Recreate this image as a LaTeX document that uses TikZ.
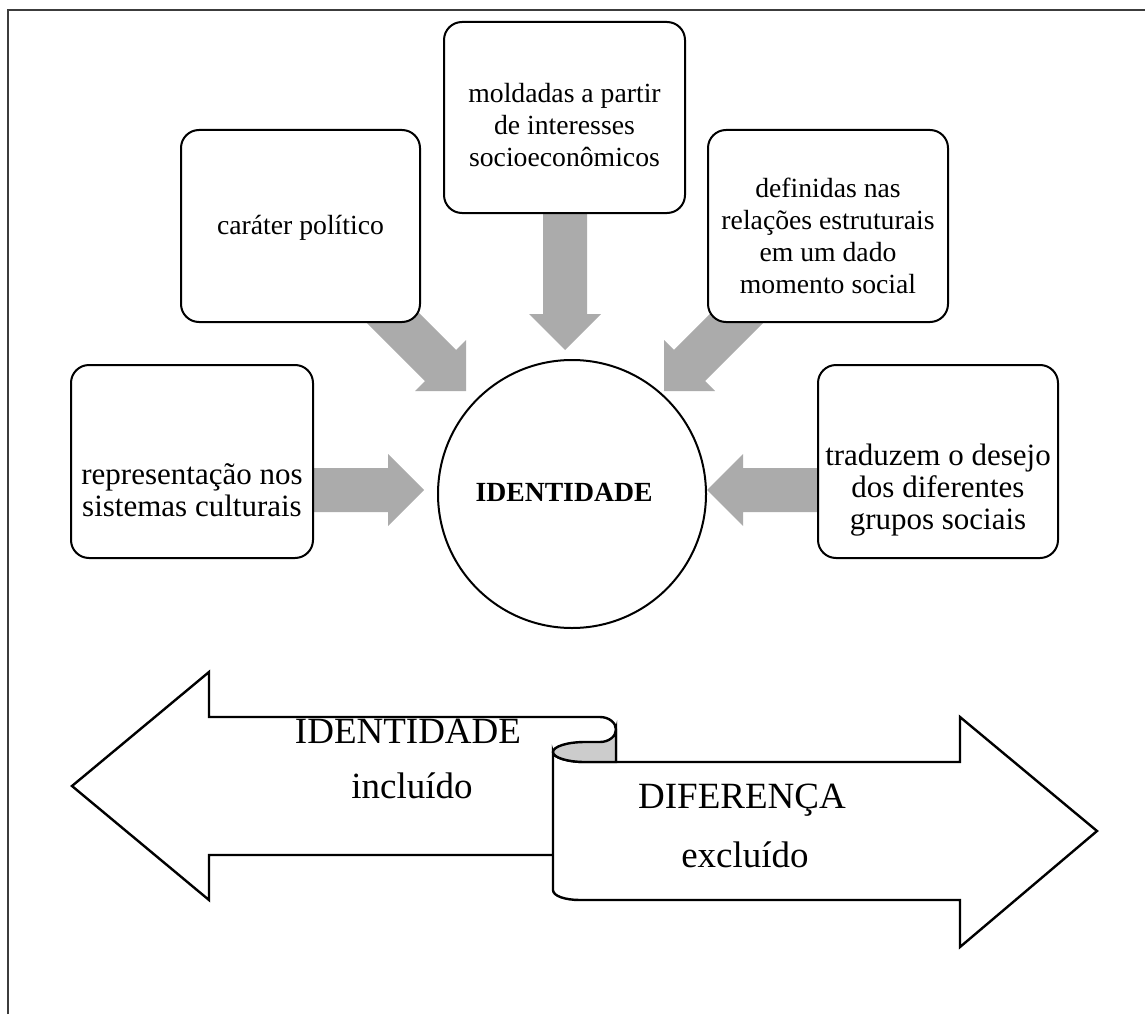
\documentclass[tikz,border=0pt]{standalone}
\usepackage{fontspec}
\setmainfont{Liberation Serif}
\begin{document}
\begin{tikzpicture}[x=1pt,y=-1pt,
  card/.style={draw=black,line width=2pt,fill=white,rounded corners=18pt},
  cardtext/.style={align=center,inner sep=0pt,font=\fontsize{27.7}{31.9}\selectfont},
  sidetext/.style={align=center,inner sep=0pt,font=\fontsize{31}{31.6}\selectfont},
  bigtext/.style={inner sep=0pt,font=\fontsize{37}{42}\selectfont},
  scrollline/.style={draw=black,line width=2.4pt,line join=miter}
]
\definecolor{arrowgray}{RGB}{171,171,171}
\definecolor{curlgray}{RGB}{204,204,204}
\definecolor{framegray}{RGB}{60,60,60}

\useasboundingbox (0,0) rectangle (1145,1014);

% page frame (top and left rules)
\draw[framegray,line width=2pt] (8,1014) -- (8,10) -- (1145,10);

% thick grey arrows pointing at the centre
\fill[arrowgray] (300,468) -- (388,468) -- (388,454) -- (424,490) -- (388,526) -- (388,512) -- (300,512) -- cycle;
\fill[arrowgray] (830,468) -- (743,468) -- (743,454) -- (707,490) -- (743,526) -- (743,512) -- (830,512) -- cycle;
\fill[arrowgray] (543,200) -- (543,314) -- (529,314) -- (565,350) -- (601,314) -- (587,314) -- (587,200) -- cycle;
\fill[arrowgray] (395.56,289.44) -- (456.06,349.94) -- (466,340) -- (466,391) -- (415,391) -- (424.94,381.06) -- (364.44,320.56) -- cycle;
\fill[arrowgray] (734.44,289.44) -- (673.94,349.94) -- (664,340) -- (664,391) -- (715,391) -- (705.06,381.06) -- (765.56,320.56) -- cycle;

% rounded boxes
\draw[card] (181,130) rectangle (420,322);
\draw[card] (444,22) rectangle (685,213);
\draw[card] (708,130) rectangle (948,322);
\draw[card] (71,365) rectangle (313,558);
\draw[card] (818,365) rectangle (1058,558);

\node[cardtext] (politico) at (300.5,228) {caráter político};
\node[cardtext] (moldadas) at (564.5,125) {moldadas a partir\\de interesses\\socioeconômicos};
\node[cardtext] (definidas) at (828,236) {definidas nas\\relações estruturais\\em um dado\\momento social};
\node[sidetext] (representacao) at (192,490) {representação nos\\sistemas culturais};
\node[sidetext] (traduzem) at (938,490) {traduzem o desejo\\dos diferentes\\grupos sociais};

% central circle
\node[circle,draw=black,line width=2pt,fill=white,minimum size=268pt,inner sep=0pt] (identidade) at (572,494) {};
\node[cardtext,font=\fontsize{27.7}{31.9}\selectfont\bfseries] (identidadetxt) at (564,492) {IDENTIDADE};

% left scroll (arrow pointing left)
\draw[scrollline,fill=white] (72,786) -- (209,672) -- (209,717) -- (600,717)
  .. controls (608.8,717) and (616,722.6) .. (616,729.5) -- (616,855) -- (209,855) -- (209,900) -- cycle;

% right scroll (arrow pointing right)
\draw[scrollline,fill=white] (553,752) .. controls (553,757.5) and (567.3,762) .. (585,762)
  -- (960,762) -- (960,717) -- (1097,831) -- (960,947) -- (960,900) -- (580,900)
  .. controls (565,900) and (553,896) .. (553,890) -- cycle;

% curl where the two scrolls meet
\draw[scrollline,fill=curlgray] (616,762) -- (616,729.5)
  .. controls (616,736.4) and (608.8,742) .. (600,742) -- (585,742)
  .. controls (567.3,742) and (553,746.5) .. (553,752)
  .. controls (553,757.5) and (567.3,762) .. (585,762) -- cycle;

\node[bigtext] (idlabel) at (408,731) {IDENTIDADE};
\node[bigtext] (incluido) at (412,786) {incluído};
\node[bigtext] (diferenca) at (742,800) {DIFERENÇA};
\node[bigtext] (excluido) at (745,855) {excluído};
\end{tikzpicture}
\end{document}
